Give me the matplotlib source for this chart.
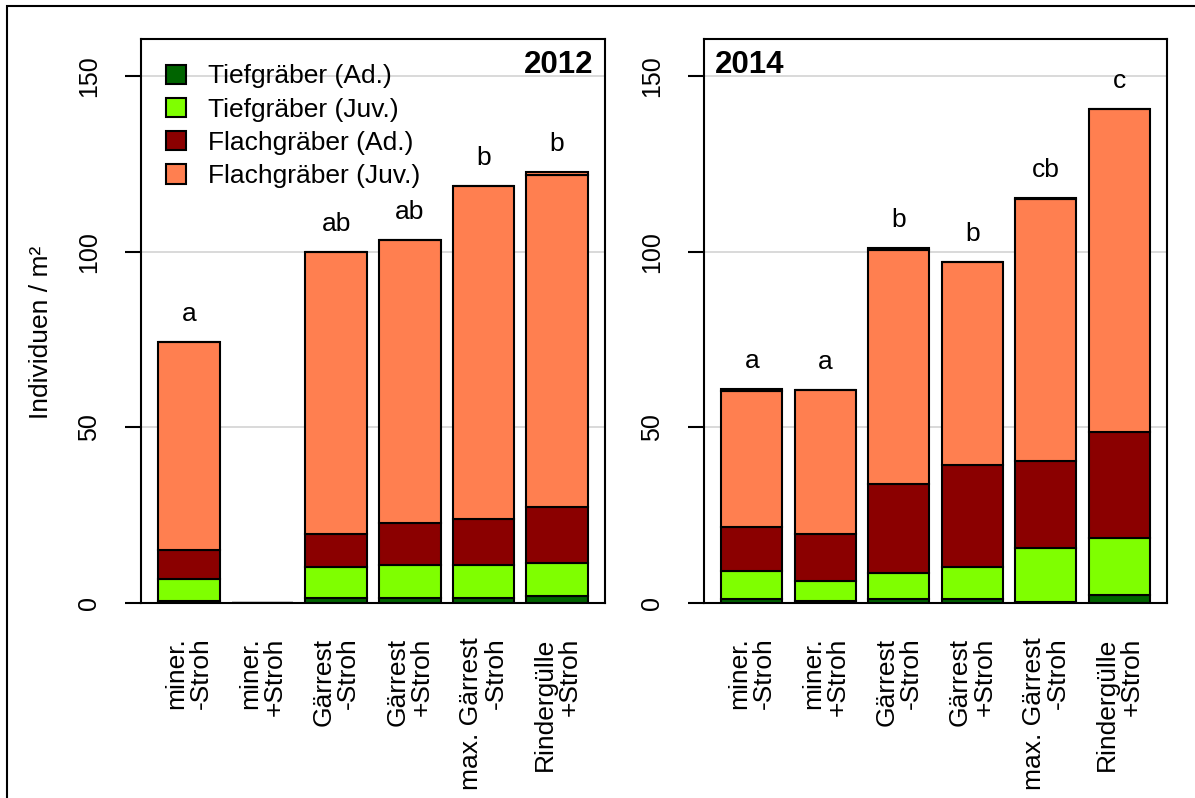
import matplotlib
matplotlib.use('Agg')
import matplotlib.pyplot as plt
import matplotlib.patches as mpatches
import numpy as np

plt.rcParams['font.family'] = ['Liberation Sans', 'DejaVu Sans']

# Behandlungen (x-Achse)
treatments = ['miner.\n-Stroh', 'miner.\n+Stroh', 'Gärrest\n-Stroh', 'Gärrest\n+Stroh',
              'max. Gärrest\n-Stroh', 'Rindergülle\n+Stroh']
series_names = ['Tiefgräber (Ad.)', 'Tiefgräber (Juv.)', 'Flachgräber (Ad.)', 'Flachgräber (Juv.)']
series_colors = ['#006400', '#7FFF00', '#8B0000', '#FF7F50']

# 2012
tief_ad_2012 = [0.5, 0, 1.5, 1.5, 1.5, 2.0]
tief_juv_2012 = [6.3, 0, 8.8, 9.3, 9.3, 9.4]
flach_ad_2012 = [8.3, 0, 9.4, 12.0, 13.1, 16.0]
flach_juv_2012 = [59.1, 0, 80.3, 80.6, 94.9, 94.5]
rest_2012 = [0, 0, 0, 0, 0, 0.8]
letters_2012 = ['a', '', 'ab', 'ab', 'b', 'b']

# 2014
tief_ad_2014 = [1.0, 0.5, 1.0, 1.0, 0.3, 2.3]
tief_juv_2014 = [8.1, 5.8, 7.5, 9.3, 15.4, 16.2]
flach_ad_2014 = [12.6, 13.4, 25.4, 29.0, 24.8, 30.2]
flach_juv_2014 = [38.7, 41.0, 66.5, 57.9, 74.6, 92.0]
rest_2014 = [0.6, 0, 0.7, 0, 0.3, 0]
letters_2014 = ['a', 'a', 'b', 'b', 'cb', 'c']

FS = 19

fig = plt.figure(figsize=(11.95, 7.98), dpi=100)
fig.add_artist(mpatches.Rectangle((7 / 1195, -0.1), 1.2, 1 - 6 / 798 + 0.1,
                                  transform=fig.transFigure, fill=False,
                                  lw=1.5, ec='black'))

ax1 = fig.add_axes([141 / 1195, 1 - 603 / 798, 464 / 1195, 564 / 798])
ax2 = fig.add_axes([704 / 1195, 1 - 603 / 798, 463 / 1195, 564 / 798])

x = np.arange(6) * 1.2 + 0.7


def draw_panel(ax, data, rest, letters, year, left):
    bottom = np.zeros(6)
    bars = []
    for vals, col, name in zip(data, series_colors, series_names):
        b = ax.bar(x, vals, width=1, bottom=bottom, color=col, edgecolor='black',
                   linewidth=1.5, label=name, zorder=3)
        bars.append(b)
        bottom = bottom + np.array(vals)
    ax.bar(x, rest, width=1, bottom=bottom, color=series_colors[3],
           edgecolor='black', linewidth=1.5, zorder=3)
    total = bottom + np.array(rest)
    for xi, t, l in zip(x, total, letters):
        if l:
            ax.text(xi, t + 6, l, ha='center', va='baseline', fontsize=FS)

    ax.set_xlim(-0.08, 7.48)
    ax.set_ylim(0, 160.6)
    ax.set_yticks([0, 50, 100, 150])
    ax.grid(axis='y', color='#d3d3d3', lw=1.2, zorder=0)
    ax.tick_params(axis='y', length=11.5, width=1.5, pad=17, labelsize=FS - 1,
                   labelrotation=90)
    for lab in ax.get_yticklabels():
        lab.set_va('center')
    ax.set_xticks(x)
    ax.set_xticklabels(treatments, rotation=90, ha='center', va='top',
                       multialignment='right', linespacing=1.02, fontsize=FS)
    ax.tick_params(axis='x', length=0, pad=25)
    for s in ax.spines.values():
        s.set_linewidth(1.5)
    if left:
        ax.text(0.974, 0.94, year, transform=ax.transAxes, ha='right',
                va='baseline', fontsize=22.5, fontweight='bold')
    else:
        ax.text(0.024, 0.94, year, transform=ax.transAxes, ha='left',
                va='baseline', fontsize=22.5, fontweight='bold')
    return bars


bars = draw_panel(ax1, [tief_ad_2012, tief_juv_2012, flach_ad_2012, flach_juv_2012],
                  rest_2012, letters_2012, '2012', True)
draw_panel(ax2, [tief_ad_2014, tief_juv_2014, flach_ad_2014, flach_juv_2014],
           rest_2014, letters_2014, '2014', False)

ax1.set_ylabel('Individuen / m²', fontsize=FS)
ax1.yaxis.set_label_coords(-0.19, 0.479)

ax1.legend(handles=bars, loc='upper left', bbox_to_anchor=(0.054, 0.955),
           frameon=False, fontsize=FS, handlelength=0.75, handleheight=0.75,
           handletextpad=0.85, labelspacing=0.35, borderpad=0, borderaxespad=0)

fig.savefig('out.png', dpi=100)
